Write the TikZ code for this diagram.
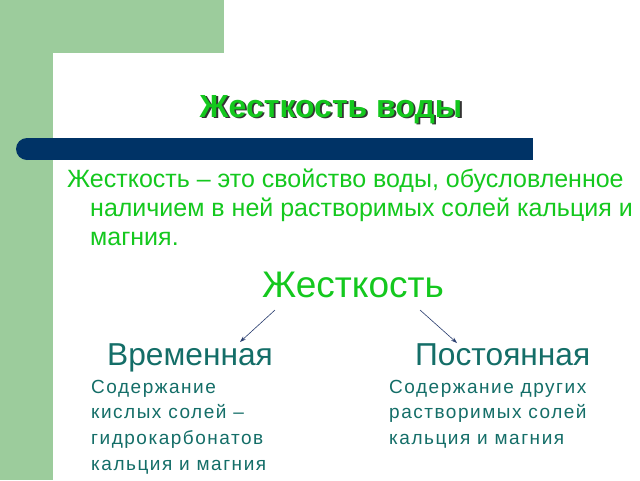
\documentclass[tikz,border=0pt]{standalone}
\usepackage{fontspec}
\setmainfont{Liberation Sans}
\usetikzlibrary{arrows.meta}
\definecolor{bggreen}{RGB}{156,204,156}
\definecolor{barblue}{RGB}{0,51,102}
\definecolor{txtgreen}{RGB}{20,200,30}
\definecolor{txtteal}{RGB}{20,110,104}
\definecolor{arrowblue}{RGB}{40,60,110}
\newcommand{\shadowed}[1]{\makebox[0pt][l]{\hspace{1.8pt}\raisebox{-1.8pt}{\color{black!80}#1}}#1}
\tikzset{
  maintext/.style={inner sep=0pt, text=txtgreen, font=\fontsize{25}{29}\selectfont},
  branch/.style={inner sep=0pt, text=txtteal, font=\fontsize{31.7}{36}\selectfont},
  subtext/.style={inner sep=0pt, text=txtteal, font=\fontsize{19}{25}\selectfont\addfontfeature{LetterSpace=8}}
}
\tikzset{
  conn/.style={draw=arrowblue, line width=0.6pt, -{Stealth[length=6pt,width=4pt]}}
}
\begin{document}
\begin{tikzpicture}[x=1pt,y=-1pt]
\useasboundingbox (0,0) rectangle (640,480);
\clip (0,0) rectangle (640,480);
\fill[white] (0,0) rectangle (640,480);
\fill[bggreen] (0,0) rectangle (224,53);
\fill[bggreen] (0,0) rectangle (53,480);
\fill[white, rounded corners=19pt] (53,53) rectangle (700,540);
% bar
\fill[barblue] (27,138) rectangle (533,160);
\fill[barblue] (27,149) circle (11);
% title
\node[inner sep=0pt, anchor=base, text=txtgreen, font=\fontsize{32}{36}\selectfont\bfseries] (title) at (331,117) {\shadowed{Жесткость воды}};
% paragraph
\node[maintext, anchor=base west] (p1) at (67,187) {Жесткость – это свойство воды, обусловленное};
\node[maintext, anchor=base west] (p2) at (90,216) {наличием в ней растворимых солей кальция и};
\node[maintext, anchor=base west] (p3) at (90,245) {магния.};
% main term
\node[inner sep=0pt, anchor=base, text=txtgreen, font=\fontsize{37}{42}\selectfont] (hard) at (353,297) {Жесткость};
% branches
\node[branch, anchor=base west] (temp) at (107,365) {Временная};
\node[branch, anchor=base west] (perm) at (415,365) {Постоянная};
% subtexts
\node[subtext, anchor=base west] (t1) at (91,393) {Содержание};
\node[subtext, anchor=base west] (t2) at (91,418) {кислых солей –};
\node[subtext, anchor=base west] (t3) at (91,444) {гидрокарбонатов};
\node[subtext, anchor=base west] (t4) at (91,470) {кальция и магния};
\node[subtext, anchor=base west] (r1) at (389,393) {Содержание других};
\node[subtext, anchor=base west] (r2) at (389,418) {растворимых солей};
\node[subtext, anchor=base west] (r3) at (389,444) {кальция и магния};
% arrows
\coordinate (la) at (275,310);
\coordinate (lb) at (240,342);
\coordinate (ra) at (420,310);
\coordinate (rb) at (457,343);
\draw[conn] (la) -- (lb);
\draw[conn] (ra) -- (rb);
\end{tikzpicture}
\end{document}
